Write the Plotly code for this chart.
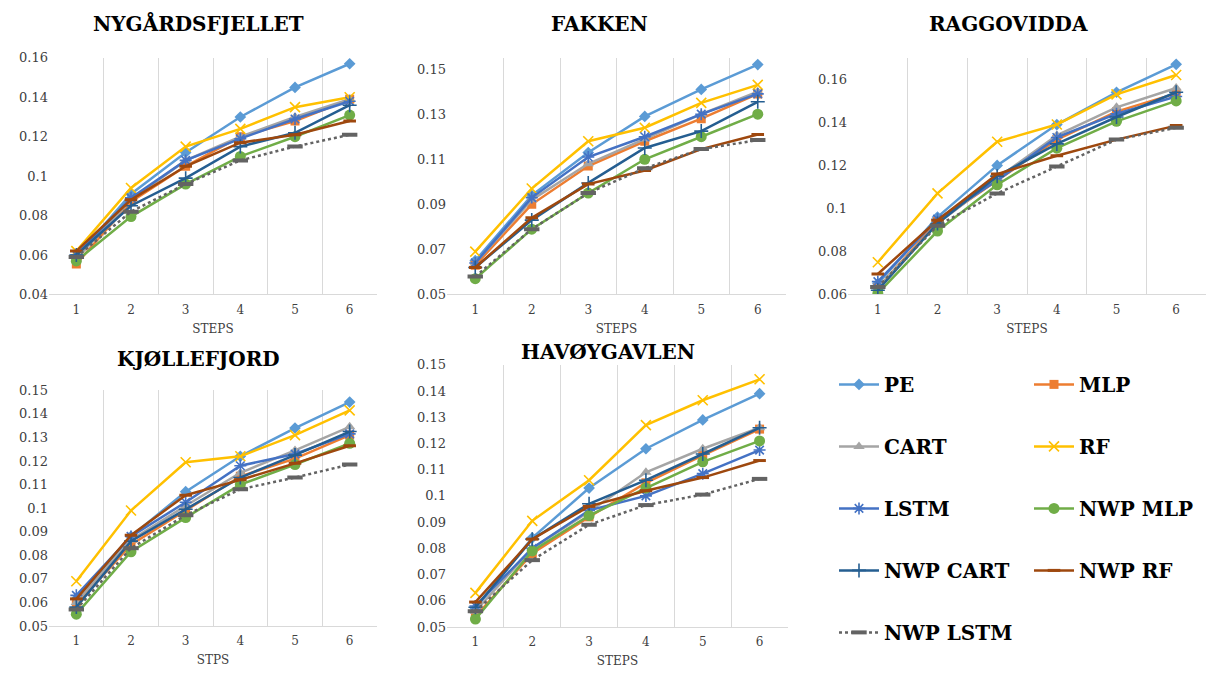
import plotly.graph_objects as go

W, H = 1209, 677

STEPS = [1, 2, 3, 4, 5, 6]
SERIES = ["PE", "MLP", "CART", "RF", "LSTM", "NWP MLP", "NWP CART", "NWP RF", "NWP LSTM"]
STATIONS = ["NYGÅRDSFJELLET", "FAKKEN", "RAGGOVIDDA", "KJØLLEFJORD", "HAVØYGAVLEN"]
XTITLES = ["STEPS", "STEPS", "STEPS", "STPS", "STEPS"]

# NYGÅRDSFJELLET
NYG_PE = [0.059, 0.091, 0.112, 0.130, 0.145, 0.157]
NYG_MLP = [0.0555, 0.087, 0.105, 0.120, 0.128, 0.139]
NYG_CART = [0.058, 0.088, 0.108, 0.120, 0.130, 0.139]
NYG_RF = [0.062, 0.094, 0.115, 0.124, 0.135, 0.140]
NYG_LSTM = [0.060, 0.089, 0.108, 0.119, 0.129, 0.138]
NYG_NWP_MLP = [0.057, 0.0795, 0.096, 0.110, 0.120, 0.131]
NYG_NWP_CART = [0.060, 0.085, 0.099, 0.115, 0.122, 0.136]
NYG_NWP_RF = [0.062, 0.088, 0.105, 0.117, 0.121, 0.128]
NYG_NWP_LSTM = [0.059, 0.082, 0.096, 0.108, 0.115, 0.121]

# FAKKEN
FAK_PE = [0.065, 0.094, 0.113, 0.129, 0.141, 0.152]
FAK_MLP = [0.063, 0.090, 0.107, 0.118, 0.128, 0.139]
FAK_CART = [0.064, 0.092, 0.108, 0.119, 0.130, 0.140]
FAK_RF = [0.069, 0.097, 0.118, 0.124, 0.135, 0.143]
FAK_LSTM = [0.064, 0.093, 0.111, 0.120, 0.130, 0.139]
FAK_NWP_MLP = [0.057, 0.079, 0.095, 0.110, 0.120, 0.130]
FAK_NWP_CART = [0.062, 0.083, 0.0995, 0.115, 0.1225, 0.1355]
FAK_NWP_RF = [0.062, 0.084, 0.099, 0.105, 0.1145, 0.121]
FAK_NWP_LSTM = [0.058, 0.079, 0.095, 0.106, 0.1145, 0.1185]

# RAGGOVIDDA
RAG_PE = [0.065, 0.096, 0.120, 0.139, 0.154, 0.167]
RAG_MLP = [0.063, 0.094, 0.113, 0.132, 0.145, 0.1535]
RAG_CART = [0.063, 0.093, 0.114, 0.134, 0.147, 0.156]
RAG_RF = [0.075, 0.107, 0.131, 0.139, 0.153, 0.162]
RAG_LSTM = [0.066, 0.095, 0.113, 0.133, 0.144, 0.152]
RAG_NWP_MLP = [0.0605, 0.0895, 0.111, 0.128, 0.1405, 0.150]
RAG_NWP_CART = [0.062, 0.093, 0.115, 0.130, 0.1425, 0.154]
RAG_NWP_RF = [0.0695, 0.0945, 0.116, 0.1245, 0.132, 0.1385]
RAG_NWP_LSTM = [0.0635, 0.092, 0.107, 0.1195, 0.132, 0.1375]

# KJØLLEFJORD
KJO_PE = [0.0615, 0.088, 0.107, 0.122, 0.134, 0.145]
KJO_MLP = [0.059, 0.0845, 0.099, 0.1135, 0.121, 0.131]
KJO_CART = [0.060, 0.0865, 0.101, 0.115, 0.1245, 0.1345]
KJO_RF = [0.069, 0.099, 0.1195, 0.122, 0.131, 0.1415]
KJO_LSTM = [0.063, 0.088, 0.1025, 0.118, 0.123, 0.1315]
KJO_NWP_MLP = [0.055, 0.0815, 0.096, 0.110, 0.1185, 0.1275]
KJO_NWP_CART = [0.058, 0.086, 0.0995, 0.113, 0.1225, 0.1325]
KJO_NWP_RF = [0.0615, 0.0885, 0.1055, 0.112, 0.119, 0.1265]
KJO_NWP_LSTM = [0.057, 0.083, 0.097, 0.108, 0.113, 0.1185]

# HAVØYGAVLEN
HAV_PE = [0.057, 0.084, 0.103, 0.118, 0.129, 0.139]
HAV_MLP = [0.054, 0.078, 0.092, 0.105, 0.1155, 0.1255]
HAV_CART = [0.056, 0.080, 0.094, 0.109, 0.118, 0.126]
HAV_RF = [0.063, 0.0905, 0.106, 0.127, 0.1365, 0.1445]
HAV_LSTM = [0.058, 0.080, 0.0945, 0.100, 0.1085, 0.1175]
HAV_NWP_MLP = [0.053, 0.079, 0.0925, 0.103, 0.113, 0.121]
HAV_NWP_CART = [0.0575, 0.0835, 0.097, 0.106, 0.116, 0.126]
HAV_NWP_RF = [0.0595, 0.0835, 0.096, 0.102, 0.107, 0.1135]
HAV_NWP_LSTM = [0.056, 0.0755, 0.089, 0.0965, 0.1005, 0.1065]

PANEL_DATA = [
    [NYG_PE, NYG_MLP, NYG_CART, NYG_RF, NYG_LSTM, NYG_NWP_MLP, NYG_NWP_CART, NYG_NWP_RF, NYG_NWP_LSTM],
    [FAK_PE, FAK_MLP, FAK_CART, FAK_RF, FAK_LSTM, FAK_NWP_MLP, FAK_NWP_CART, FAK_NWP_RF, FAK_NWP_LSTM],
    [RAG_PE, RAG_MLP, RAG_CART, RAG_RF, RAG_LSTM, RAG_NWP_MLP, RAG_NWP_CART, RAG_NWP_RF, RAG_NWP_LSTM],
    [KJO_PE, KJO_MLP, KJO_CART, KJO_RF, KJO_LSTM, KJO_NWP_MLP, KJO_NWP_CART, KJO_NWP_RF, KJO_NWP_LSTM],
    [HAV_PE, HAV_MLP, HAV_CART, HAV_RF, HAV_LSTM, HAV_NWP_MLP, HAV_NWP_CART, HAV_NWP_RF, HAV_NWP_LSTM],
]

# styles
COLORS = ["#5B9BD5", "#ED7D31", "#A5A5A5", "#FFC000", "#4472C4",
          "#70AD47", "#255E91", "#9E480E", "#636363"]
SYMBOLS = ["diamond", "square", "triangle-up", "x-thin", "asterisk",
           "circle", "cross-thin", "line-ew", "line-ew"]
MSIZES = [9, 9, 10, 10, 10, 11, 10, 9, 11]
MLINEW = [0, 0, 0, 1.6, 1.6, 0, 1.6, 3, 4]
DASHES = ["solid"] * 8 + ["dot"]
LEGEND_OF = ["legend", "legend2", "legend", "legend2", "legend",
             "legend2", "legend", "legend2", "legend"]

# panel geometry in pixels: (left, right, top, bottom)
PANELS_PX = [(49, 377, 52, 294), (447, 786, 52, 294), (848, 1206, 52, 294),
             (49, 377, 392, 633), (447, 788, 366, 634)]
YRANGES = [(0.04, 0.16, 0.02), (0.05, 0.155, 0.02), (0.06, 0.17, 0.02),
           (0.05, 0.15, 0.01), (0.05, 0.15, 0.01)]
TITLE_POS = [(198, 17), (599, 17), (1008, 17), (198, 360), (608, 353)]

SERIF = "DejaVu Serif"
TXT = "#404040"
fig = go.Figure()

for p, rows in enumerate(PANEL_DATA):
    ax = "" if p == 0 else str(p + 1)
    for s, name in enumerate(SERIES):
        fig.add_trace(go.Scatter(
            x=STEPS, y=rows[s], name=name, mode="lines+markers",
            xaxis="x" + ax, yaxis="y" + ax,
            legendgroup=name, showlegend=(p == 0), legend=LEGEND_OF[s],
            line=dict(color=COLORS[s], width=2.5, dash=DASHES[s]),
            marker=dict(symbol=SYMBOLS[s], size=MSIZES[s], color=COLORS[s],
                        line=dict(color=COLORS[s], width=MLINEW[s])),
        ))

layout = dict(
    width=W, height=H, margin=dict(l=0, r=0, t=0, b=0),
    paper_bgcolor="white", plot_bgcolor="white", showlegend=True,
    font=dict(family=SERIF, color=TXT, size=13),
    annotations=[],
)
for p, (l, r, t, b) in enumerate(PANELS_PX):
    ax = "" if p == 0 else str(p + 1)
    ymin, ymax, dt = YRANGES[p]
    layout["xaxis" + ax] = dict(
        domain=[l / W, r / W], anchor="y" + ax, range=[0.5, 6.5],
        tickmode="array", tickvals=STEPS, showgrid=False, zeroline=False,
        showline=True, linecolor="#d9d9d9", linewidth=1, ticks="",
        ticklabelstandoff=4,
        tickfont=dict(family=SERIF, size=12, color=TXT),
        minor=dict(tickmode="array", tickvals=[0.5, 1.5, 2.5, 3.5, 4.5, 5.5, 6.5],
                   showgrid=True, gridcolor="#d9d9d9", gridwidth=1, ticks=""),
        title=dict(text=XTITLES[p], standoff=8,
                   font=dict(family=SERIF, size=12, color=TXT)),
        fixedrange=True,
    )
    layout["yaxis" + ax] = dict(
        domain=[1 - b / H, 1 - t / H], anchor="x" + ax, range=[ymin, ymax],
        tick0=ymin, dtick=dt, showgrid=False, zeroline=False, showline=False,
        ticks="", tickfont=dict(family=SERIF, size=13, color=TXT),
        fixedrange=True,
    )
    tx, ty = TITLE_POS[p]
    layout["annotations"].append(dict(
        text=STATIONS[p], x=tx / W, y=1 - ty / H, xref="paper", yref="paper",
        xanchor="center", yanchor="middle", showarrow=False,
        font=dict(family=SERIF, size=20, color="black", weight="bold"),
    ))

legend_common = dict(
    xanchor="left", yanchor="top", bgcolor="rgba(0,0,0,0)",
    font=dict(family=SERIF, size=20, color="black", weight="bold"),
    tracegroupgap=33, itemwidth=40, traceorder="grouped",
    itemclick=False, itemdoubleclick=False,
)
layout["legend"] = dict(legend_common, x=834 / W, y=1 - 366 / H)
layout["legend2"] = dict(legend_common, x=1029 / W, y=1 - 366 / H)

fig.update_layout(**layout)
fig.write_html("out.html", config={"displayModeBar": False},
               post_script="document.body.style.margin='0';")
